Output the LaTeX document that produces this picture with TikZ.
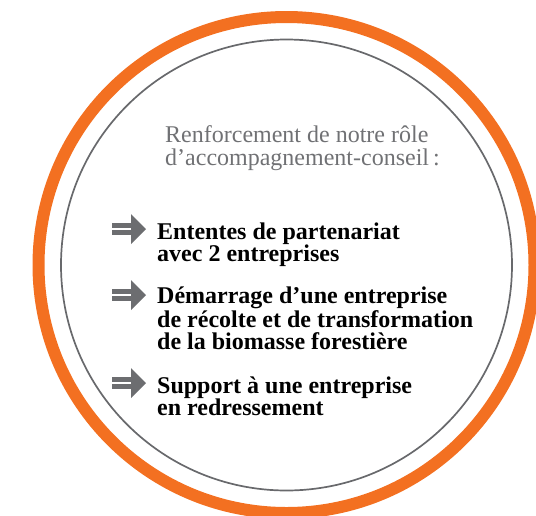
\documentclass[tikz,border=0pt]{standalone}
\usepackage{fontspec}
\setmainfont{Liberation Serif}
\usepackage{tikz}
\usetikzlibrary{positioning}
\definecolor{ringorange}{RGB}{243,112,33}
\definecolor{ringgray}{RGB}{104,105,108}
\definecolor{headgray}{RGB}{112,113,116}
\definecolor{arrowgray}{RGB}{108,109,112}
\tikzset{
  bulletarrow/.pic={
    \fill[arrowgray] (-34,-6) rectangle (-12,-1.5);
    \fill[arrowgray] (-34,0.5) rectangle (-12,5.5);
    \fill[arrowgray] (-15,-15) -- (0,0) -- (-15,15) -- cycle;
  },
  itemtext/.style={anchor=base west, align=left, inner sep=0pt,
    font=\fontsize{24}{22}\selectfont\bfseries},
}
\begin{document}
\begin{tikzpicture}[x=1pt,y=-1pt]
\useasboundingbox (0,0) rectangle (536,515);
\clip (0,0) rectangle (536,515);
% draw the two rings
\draw[ringorange, line width=12pt] (286.5,265) circle[radius=248];
\draw[ringgray, line width=1.7pt] (286.5,265) circle[radius=225.5];
% heading (anchored on its last line)
\node[anchor=base west, align=left, inner sep=0pt, text=headgray,
  font=\fontsize{24}{23}\selectfont] (head) at (165,165)
  {Renforcement de notre rôle\\ d’accompagnement-conseil\,:};
% items with arrows: last baseline / first baseline
\foreach \i/\y/\ya/\txt in {1/261/239/{Ententes de partenariat\\ avec 2 entreprises},
  2/349/305/{Démarrage d’une entreprise\\ de récolte et de transformation\\ de la biomasse forestière},
  3/415/393/{Support à une entreprise\\ en redressement}}
{
\node[itemtext] (item\i) at (157,\y) {\txt};
\pic at (146,\ya-10) {bulletarrow};
}
\end{tikzpicture}
\end{document}
